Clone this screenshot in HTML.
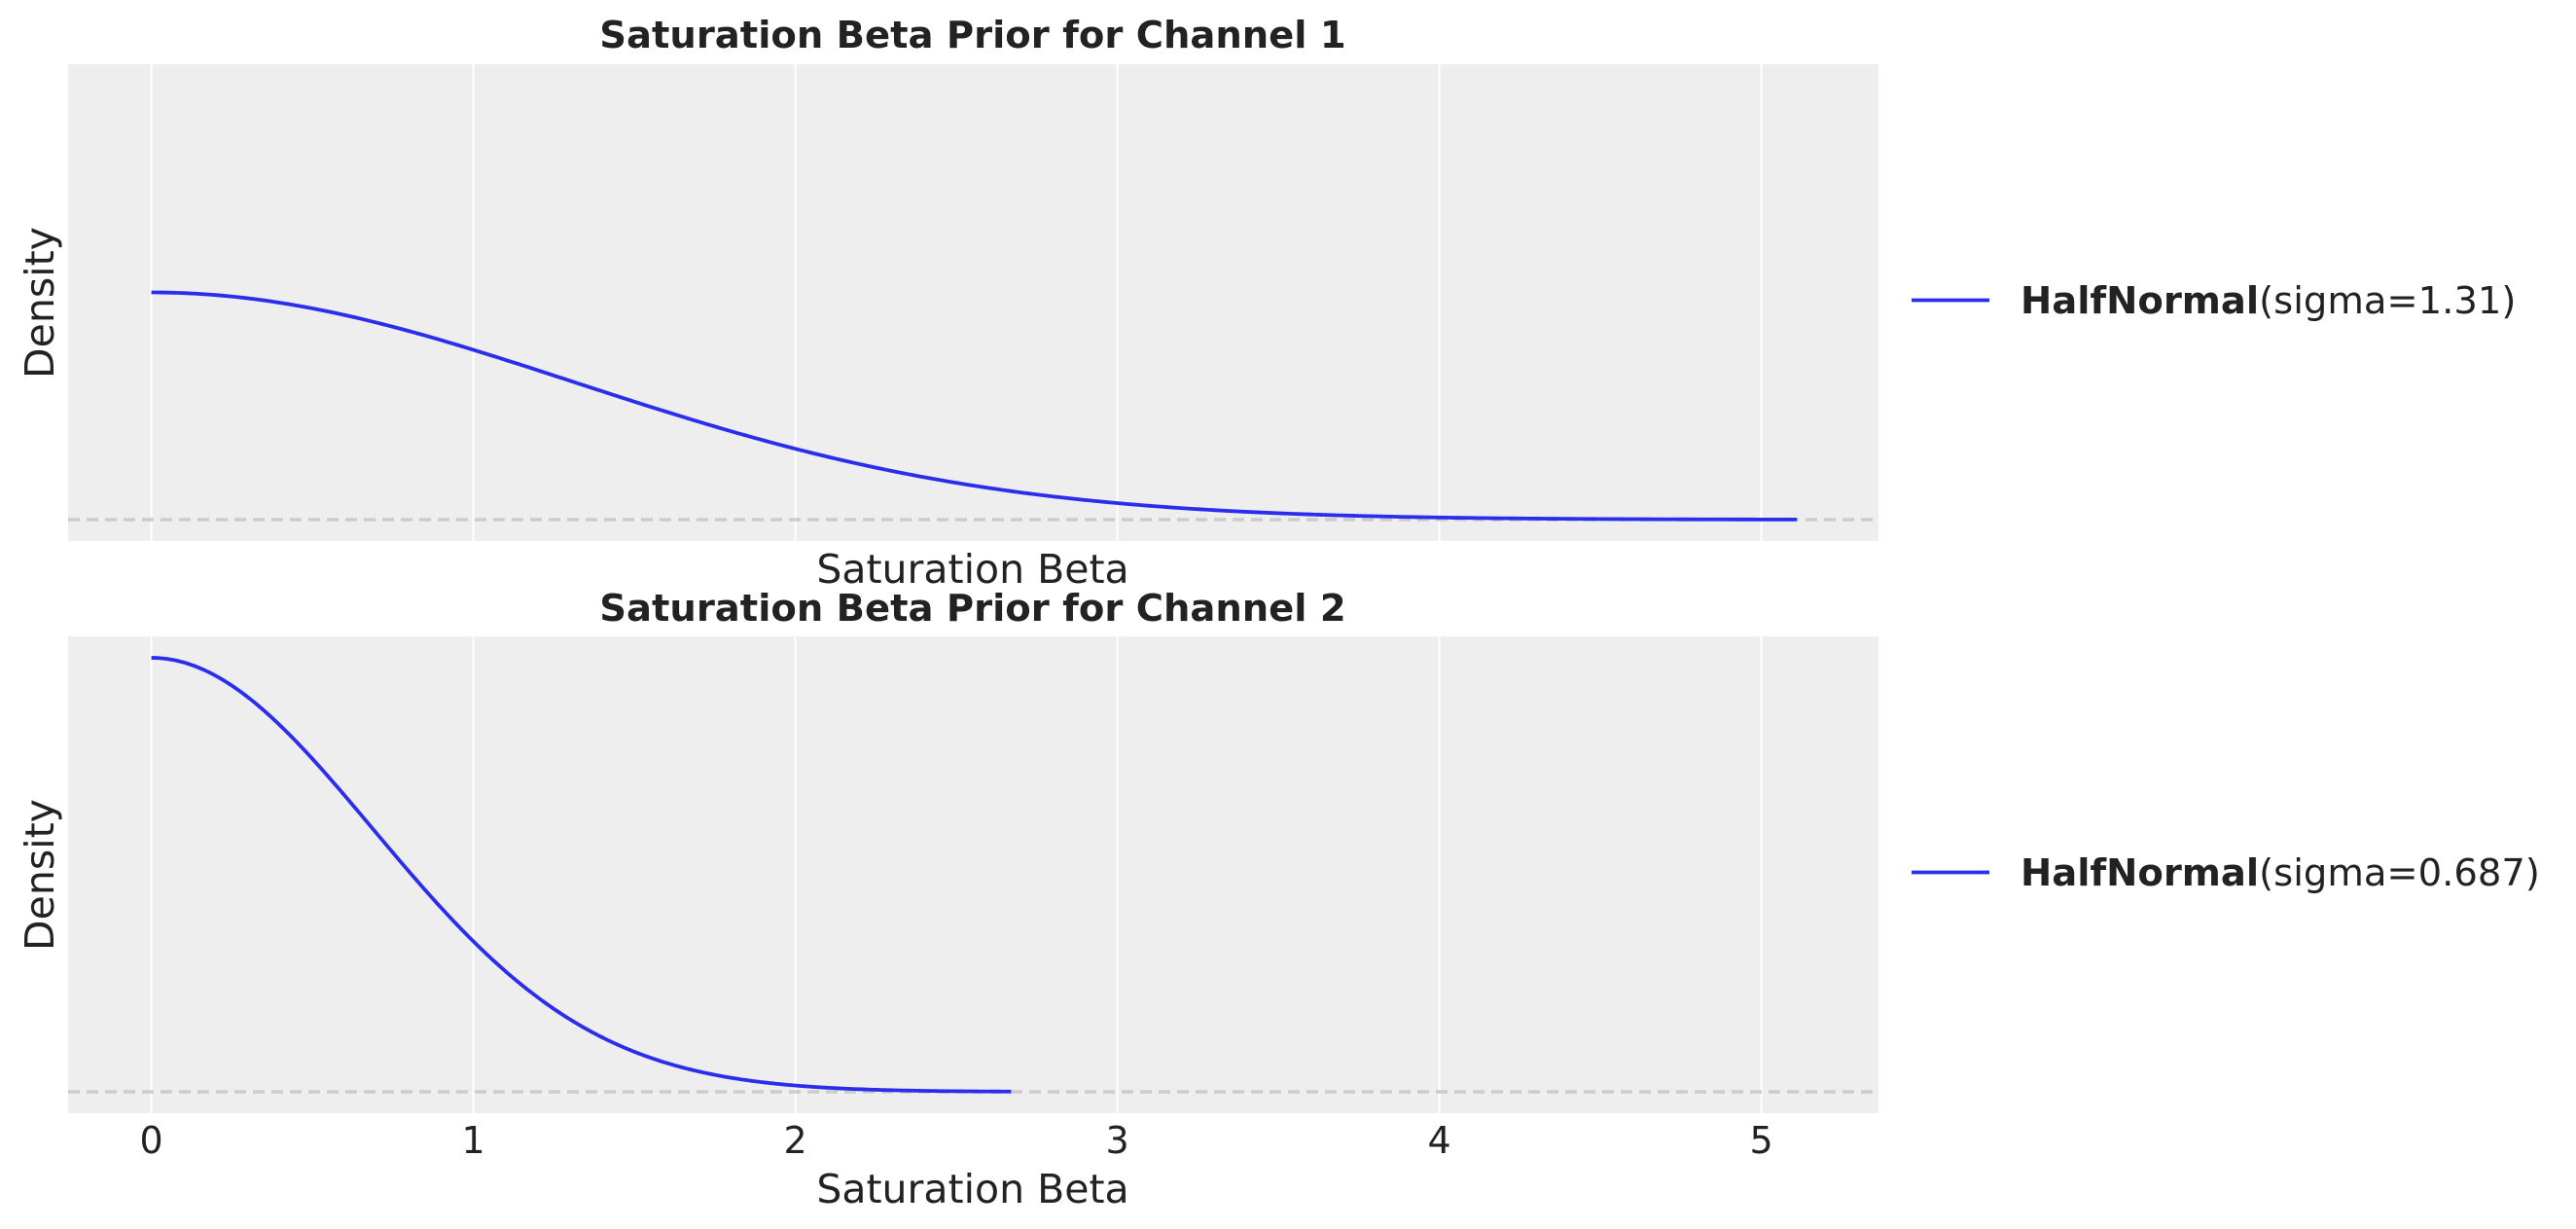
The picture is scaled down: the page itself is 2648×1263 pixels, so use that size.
<!DOCTYPE html>
<html><head><meta charset="utf-8">
<style>
html,body{margin:0;padding:0;background:#fff;}
svg{display:block;}
text{font-family:"DejaVu Sans","Liberation Sans",sans-serif;fill:#222;}
</style></head>
<body>
<svg id="s" width="2648" height="1263" viewBox="0 0 2648 1263" xmlns="http://www.w3.org/2000/svg">
<rect width="2648" height="1263" fill="#fff"/>
<rect x="70" y="66" width="1861" height="490" fill="#eeeeee"/>
<g stroke="#fff" stroke-width="2">
<line x1="155.6" y1="66" x2="155.6" y2="556"/><line x1="486.6" y1="66" x2="486.6" y2="556"/>
<line x1="817.6" y1="66" x2="817.6" y2="556"/><line x1="1148.6" y1="66" x2="1148.6" y2="556"/>
<line x1="1479.6" y1="66" x2="1479.6" y2="556"/><line x1="1810.6" y1="66" x2="1810.6" y2="556"/>
</g>
<line x1="70" y1="534" x2="1931" y2="534" stroke="#cccccc" stroke-width="3.5" stroke-dasharray="12,7"/>
<path id="p1" fill="none" stroke="#2a2eec" stroke-width="3.8"/>
<text x="1000" y="49" font-size="38.5" font-weight="bold" text-anchor="middle">Saturation Beta Prior for Channel 1</text>
<text x="1000" y="599" font-size="41" text-anchor="middle">Saturation Beta</text>
<text transform="translate(55,311) rotate(-90)" font-size="41" text-anchor="middle">Density</text>
<rect x="70" y="654" width="1861" height="490" fill="#eeeeee"/>
<g stroke="#fff" stroke-width="2">
<line x1="155.6" y1="654" x2="155.6" y2="1144"/><line x1="486.6" y1="654" x2="486.6" y2="1144"/>
<line x1="817.6" y1="654" x2="817.6" y2="1144"/><line x1="1148.6" y1="654" x2="1148.6" y2="1144"/>
<line x1="1479.6" y1="654" x2="1479.6" y2="1144"/><line x1="1810.6" y1="654" x2="1810.6" y2="1144"/>
</g>
<line x1="70" y1="1122" x2="1931" y2="1122" stroke="#cccccc" stroke-width="3.5" stroke-dasharray="12,7"/>
<path id="p2" fill="none" stroke="#2a2eec" stroke-width="3.8"/>
<text x="1000" y="638" font-size="38.5" font-weight="bold" text-anchor="middle">Saturation Beta Prior for Channel 2</text>
<text x="1000" y="1236" font-size="41" text-anchor="middle">Saturation Beta</text>
<text transform="translate(55,899) rotate(-90)" font-size="41" text-anchor="middle">Density</text>
<g font-size="38" text-anchor="middle">
<text x="155.6" y="1185">0</text><text x="486.6" y="1185">1</text><text x="817.6" y="1185">2</text>
<text x="1148.6" y="1185">3</text><text x="1479.6" y="1185">4</text><text x="1810.6" y="1185">5</text>
</g>
<line x1="1965" y1="308.5" x2="2045" y2="308.5" stroke="#2a2eec" stroke-width="3.8"/>
<text x="2077" y="322" font-size="38.5"><tspan font-weight="bold">HalfNormal</tspan>(sigma=1.31)</text>
<line x1="1965" y1="896.5" x2="2045" y2="896.5" stroke="#2a2eec" stroke-width="3.8"/>
<text x="2077" y="910" font-size="38.5"><tspan font-weight="bold">HalfNormal</tspan>(sigma=0.687)</text>
</svg>
<script>
function mk(id,sig,xmax,ytop,yzero){
 var d="",n=300;
 for(var i=0;i<=n;i++){var x=xmax*i/n;var v=Math.exp(-x*x/(2*sig*sig));
  var px=155.6+331*x, py=yzero-(yzero-ytop)*v;
  d+=(i?"L":"M")+px.toFixed(2)+","+py.toFixed(2);}
 document.getElementById(id).setAttribute("d",d);
}
mk("p1",1.31,5.11,300.5,534);
mk("p2",0.687,2.67,676,1122);
</script>
</body></html>
